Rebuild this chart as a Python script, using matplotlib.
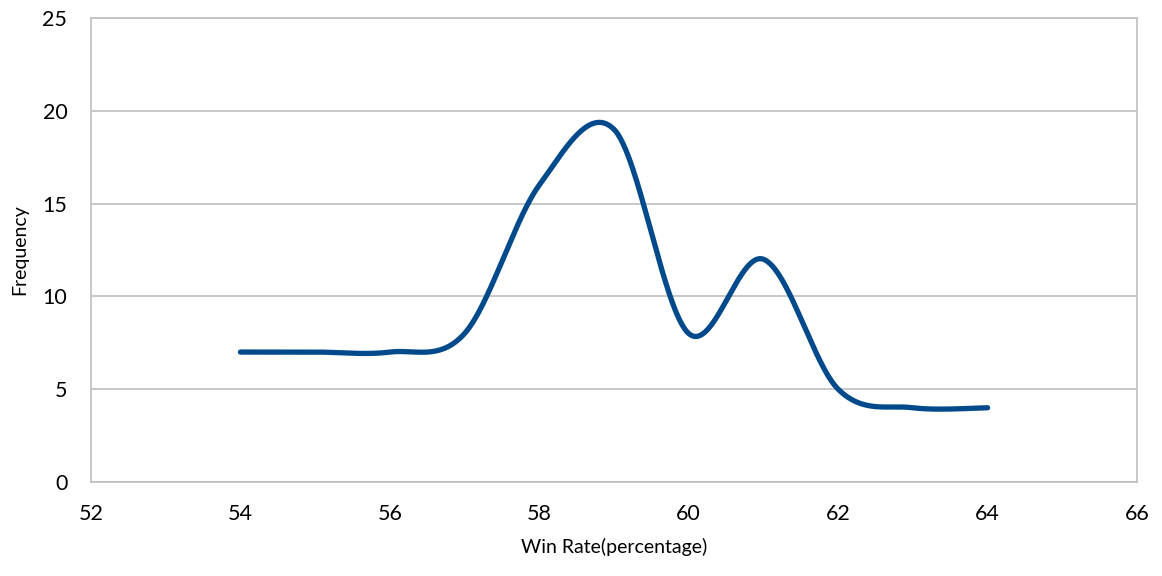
import numpy as np
import matplotlib
matplotlib.use("Agg")
import matplotlib.pyplot as plt

# Win-rate distribution
win_rate = [54, 55, 56, 57, 58, 59, 60, 61, 62, 63, 64]
frequency = [7, 7, 7, 8, 16, 19, 8, 12, 5, 4, 4]

x_ticks = [52, 54, 56, 58, 60, 62, 64, 66]
y_ticks = [0, 5, 10, 15, 20, 25]


def smooth_curve(xs, ys, n=60):
    """Catmull-Rom style smoothing (cubic Bezier segments through every point)."""
    pts = np.column_stack([xs, ys]).astype(float)
    padded = np.vstack([pts[0], pts, pts[-1]])
    out = []
    t = np.linspace(0, 1, n)[:, None]
    for i in range(len(pts) - 1):
        p0, p3 = padded[i + 1], padded[i + 2]
        c1 = p0 + (padded[i + 2] - padded[i]) / 6.0
        c2 = p3 - (padded[i + 3] - padded[i + 1]) / 6.0
        seg = ((1 - t) ** 3) * p0 + 3 * ((1 - t) ** 2) * t * c1 \
            + 3 * (1 - t) * t ** 2 * c2 + t ** 3 * p3
        out.append(seg if i == 0 else seg[1:])
    seg = np.vstack(out)
    return seg[:, 0], seg[:, 1]


plt.rcParams['font.family'] = ['Lato', 'DejaVu Sans']

fig = plt.figure(figsize=(11.62, 5.76), dpi=100)
ax = fig.add_axes([0.0783, 0.1632, 0.9002, 0.8056])

sx, sy = smooth_curve(win_rate, frequency)
ax.plot(sx, sy, color='#004a8b', linewidth=3.8, solid_capstyle='round',
        solid_joinstyle='round', zorder=3)

ax.set_xlim(52, 66)
ax.set_ylim(0, 25)
ax.set_xticks(x_ticks)
ax.set_yticks(y_ticks)
ax.tick_params(axis='both', length=0, labelsize=15.5, colors='#000000')
ax.tick_params(axis='x', pad=16)
ax.tick_params(axis='y', pad=17)

ax.yaxis.grid(True, color='#bfbfbf', linewidth=1.2)
ax.set_axisbelow(True)
for side in ax.spines.values():
    side.set_color('#bfbfbf')
    side.set_linewidth(1.2)

ax.set_xlabel('Win Rate(percentage)', fontsize=14, labelpad=10)
ax.set_ylabel('Frequency', fontsize=14, labelpad=10)

fig.savefig('out.png', dpi=100)
